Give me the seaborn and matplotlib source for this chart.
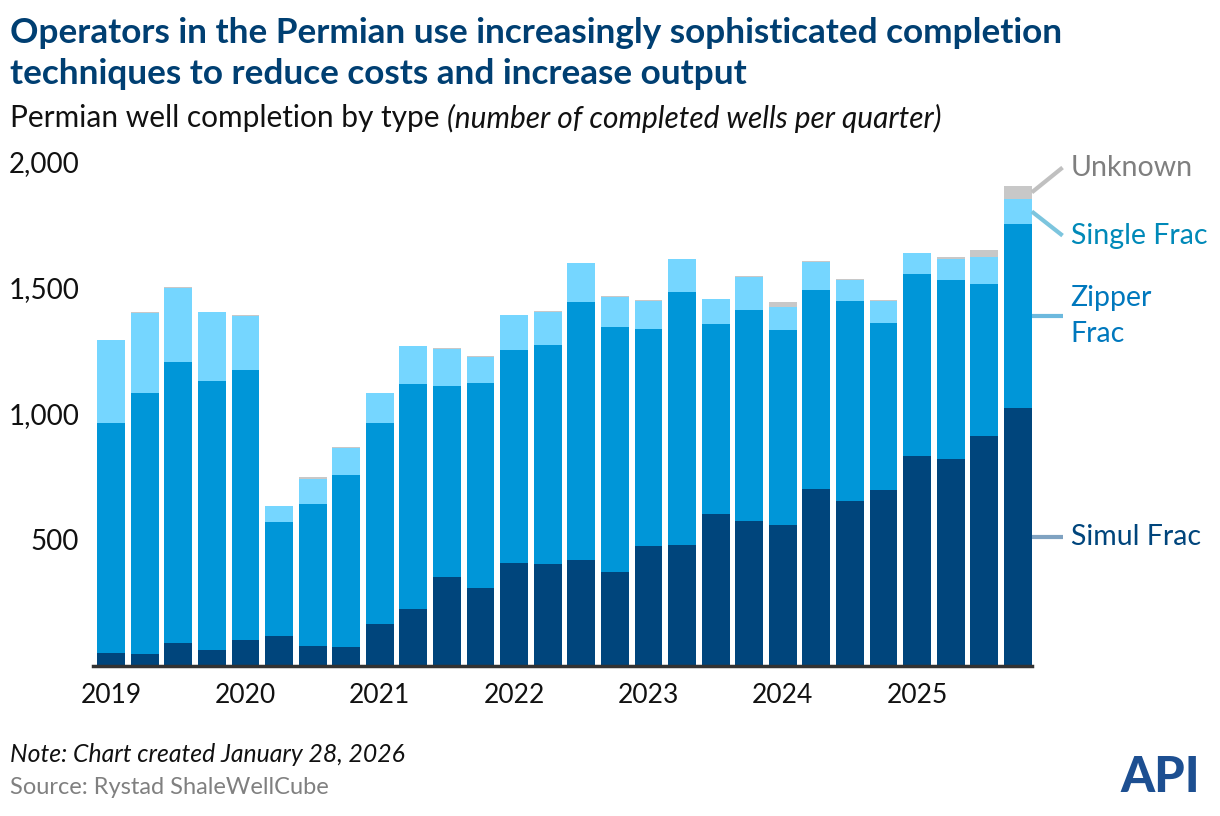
import pandas as pd
import numpy as np
import seaborn as sns
import matplotlib.pyplot as plt

# Data
quarters = [f"{y} Q{q}" for y in range(2019, 2026) for q in range(1, 5)]
years = ["2019", "2020", "2021", "2022", "2023", "2024", "2025"]
simul = [51, 47, 91, 62, 102, 118, 78, 74, 166, 226, 353, 310, 409, 405,
         421, 373, 477, 481, 604, 576, 560, 703, 654, 699, 834, 821, 913, 1024]
zipper = [915, 1038, 1114, 1070, 1074, 453, 565, 685, 800, 894, 759, 814, 846, 870,
          1025, 973, 861, 1004, 754, 838, 774, 791, 796, 664, 722, 712, 604, 728]
single = [329, 316, 295, 271, 212, 64, 101, 105, 119, 151, 146, 103, 136, 128,
          154, 119, 112, 129, 100, 128, 89, 110, 80, 87, 84, 83, 105, 103]
unknown = [0, 5, 4, 0, 4, 0, 5, 4, 0, 0, 3, 4, 3, 4,
           0, 4, 4, 3, 0, 7, 23, 3, 7, 3, 0, 9, 27, 49]

df = pd.DataFrame({"quarter": quarters, "Simul Frac": simul, "Zipper Frac": zipper,
                   "Single Frac": single, "Unknown": unknown})
# cumulative tops for stacking
df["c_simul"] = df["Simul Frac"]
df["c_zipper"] = df["c_simul"] + df["Zipper Frac"]
df["c_single"] = df["c_zipper"] + df["Single Frac"]
df["c_unknown"] = df["c_single"] + df["Unknown"]

colors = {"Unknown": "#c8c8c8", "Single Frac": "#75d6ff",
          "Zipper Frac": "#0096d8", "Simul Frac": "#00457c"}

font = "Lato"
sns.set_style("white")
plt.rcParams["font.family"] = [font, "DejaVu Sans"]

fig = plt.figure(figsize=(12.2, 8.16), dpi=100)
ax = fig.add_axes([93 / 1220, 1 - 666 / 816, 939 / 1220, (666 - 162) / 816])

# stacked bars drawn from the tallest down
for col, key in [("c_unknown", "Unknown"), ("c_single", "Single Frac"),
                 ("c_zipper", "Zipper Frac"), ("c_simul", "Simul Frac")]:
    sns.barplot(data=df, x="quarter", y=col, color=colors[key], width=0.83,
                linewidth=0, saturation=1, ax=ax, order=quarters)

ax.set_xlim(-0.54, 27.42)
ax.set_ylim(0, 2000)
ax.set_xlabel("")
ax.set_ylabel("")
ax.set_xticks(range(0, 28, 4))
ax.set_xticklabels(years, fontsize=19)
ax.set_yticks([500, 1000, 1500, 2000])
ax.set_yticklabels(["500", "1,000", "1,500", "2,000"], fontsize=20)
ax.tick_params(length=0, pad=10, colors="#111111")
ax.tick_params(axis="x", pad=12)
for s in ["top", "right", "left"]:
    ax.spines[s].set_visible(False)
ax.spines["bottom"].set_color("#333333")
ax.spines["bottom"].set_linewidth(2.5)

# labels on the right with leader lines from the last bar
last = df.iloc[-1]
x0, x1, xt = 27.415, 28.33, 28.57
mids = {"Unknown": (last["c_single"] + last["c_unknown"]) / 2,
        "Single Frac": (last["c_zipper"] + last["c_single"]) / 2,
        "Zipper Frac": (last["c_simul"] + last["c_zipper"]) / 2,
        "Simul Frac": last["c_simul"] / 2}
labels = [("Unknown", "Unknown", 1978, "#7f7f7f", "#c0c0c0"),
          ("Single Frac", "Single Frac", 1708, "#0089b8", "#7cc5de"),
          ("Zipper Frac", "Zipper\nFrac", mids["Zipper Frac"], "#0078bd", "#6cb9de"),
          ("Simul Frac", "Simul Frac", mids["Simul Frac"], "#00457c", "#7fa2c1")]
for key, txt, yend, tc, lc in labels:
    ax.plot([x0, x1], [mids[key], yend], color=lc, lw=3, clip_on=False,
            solid_capstyle="butt")
    ax.text(xt, yend, txt, color=tc, fontsize=20.5, va="center", ha="left",
            linespacing=1.45, clip_on=False)

# titles and notes
fig.text(10 / 1220, 1 - 33 / 816, "Operators in the Permian use increasingly sophisticated completion",
         fontsize=25.3, fontweight="bold", color="#003f72", va="center")
fig.text(10 / 1220, 1 - 74 / 816, "techniques to reduce costs and increase output",
         fontsize=25.3, fontweight="bold", color="#003f72", va="center")
t = fig.text(10 / 1220, 1 - 118 / 816, "Permian well completion by type ",
             fontsize=21.5, color="#111111", va="center")
fig.canvas.draw()
bb = t.get_window_extent()
fig.text(bb.x1 / 1220, 1 - 118 / 816, "(number of completed wells per quarter)",
         fontsize=21.5, style="italic", color="#111111", va="center")
fig.text(10 / 1220, 1 - 755 / 816, "Note: Chart created January 28, 2026",
         fontsize=17.8, style="italic", color="#111111", va="center")
fig.text(10 / 1220, 1 - 787 / 816, "Source: Rystad ShaleWellCube",
         fontsize=17, color="#808080", va="center")

# simple API mark
fig.text(1160 / 1220, 1 - 778 / 816, "API", fontsize=35, fontweight="black",
         color="#1d4f91", ha="center", va="center")

fig.savefig("out.png", dpi=100)
